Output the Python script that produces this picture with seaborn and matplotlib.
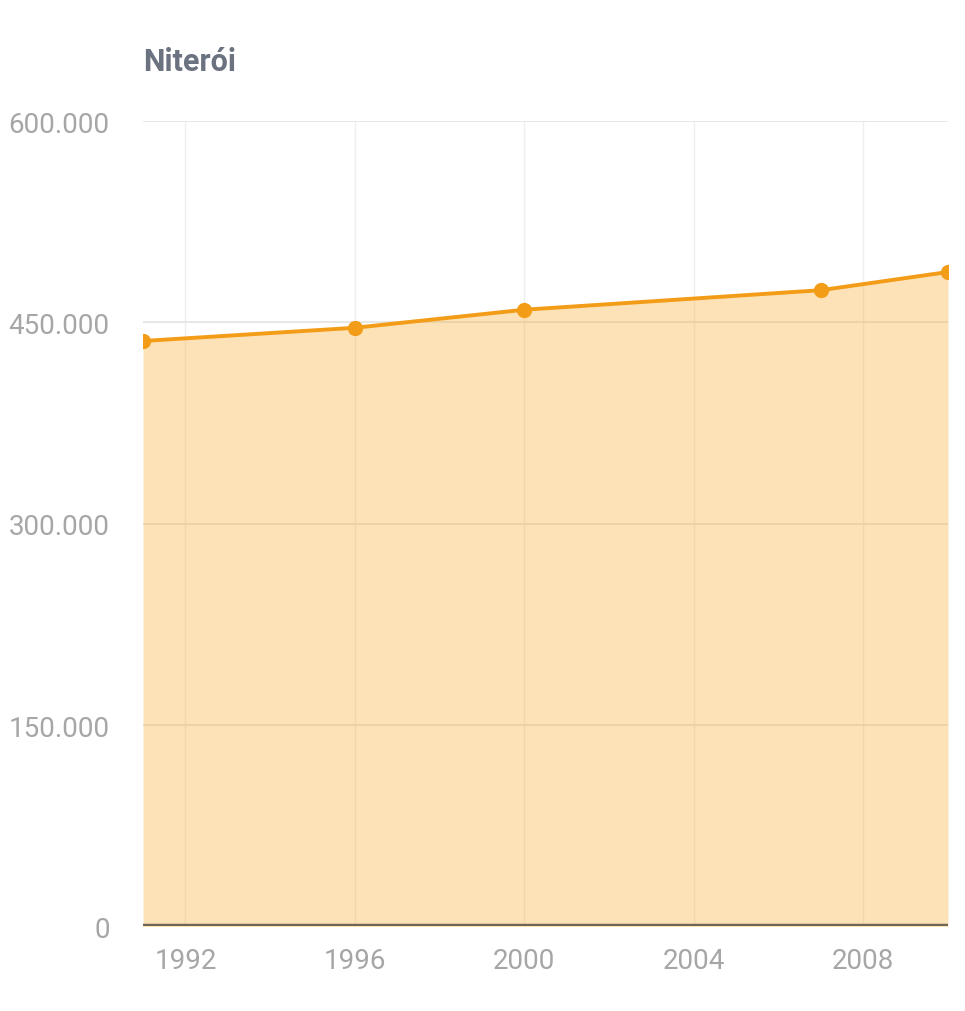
import matplotlib
matplotlib.use("Agg")
import matplotlib.pyplot as plt
import matplotlib.ticker as mticker
import seaborn as sns
import pandas as pd

# dados populacionais de Niterói
anos = [1991, 1996, 2000, 2007, 2010]
populacao = [436155, 446000, 459451, 474002, 487562]

df = pd.DataFrame({"ano": anos, "populacao": populacao})

sns.set_style("white")
plt.rcParams['font.family'] = ['Roboto', 'DejaVu Sans']

fig = plt.figure(figsize=(9.65, 10.12), dpi=100)
ax = fig.add_axes([0.1482, 0.0835, 0.8342, 0.7959])

laranja = "#f39c17"

# área preenchida
ax.fill_between(df["ano"], df["populacao"], 0, color="#f9a825", alpha=0.33, linewidth=0, zorder=2)

sns.lineplot(data=df, x="ano", y="populacao", ax=ax, color=laranja, linewidth=2.8,
             marker="o", markersize=11, markeredgewidth=0, zorder=3)

ax.set_xlim(1991, 2010)
ax.set_ylim(0, 600000)
ax.set_yticks([0, 150000, 300000, 450000, 600000])
ax.set_xticks([1992, 1996, 2000, 2004, 2008])
ax.yaxis.set_major_formatter(mticker.FuncFormatter(lambda v, p: f"{int(v):,}".replace(",", ".")))

ax.grid(True, axis="y", color="#e3e3e3", linewidth=1.2, zorder=1)
ax.grid(True, axis="x", color="#efefef", linewidth=1.0, zorder=1)
ax.set_axisbelow(True)
for s in ax.spines.values():
    s.set_visible(False)
ax.axhline(0, color="#6d675a", linewidth=3.2, zorder=4)

ax.tick_params(axis="both", length=0, labelsize=20, labelcolor="#a6a6a6")
ax.tick_params(axis="y", pad=24)
ax.tick_params(axis="x", pad=15)
ax.set_xlabel("")
ax.set_ylabel("")

fig.text(0.1482, 0.9385, "Niterói", fontsize=22, fontweight="bold", color="#6b7280", ha="left", va="center")

fig.savefig("out.png", dpi=100, facecolor="white")
